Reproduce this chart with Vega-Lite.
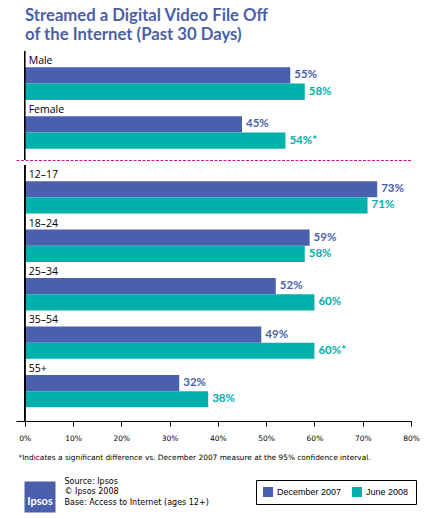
{
  "$schema": "https://vega.github.io/schema/vega-lite/v6.json",
  "background": "white",
  "padding": {"left": 16, "top": 8, "right": 10, "bottom": 4},
  "title": {
    "text": ["Streamed a Digital Video File Off", "of the Internet (Past 30 Days)"],
    "anchor": "start",
    "dx": 9,
    "font": "Lato",
    "fontSize": 16.7,
    "fontWeight": "bold",
    "lineHeight": 18.5,
    "color": "#4b5fa8",
    "offset": 7
  },
  "datasets": {
    "gender": [
      {"group": "Male", "series": "December 2007", "value": 55, "label": "55%"},
      {"group": "Male", "series": "June 2008", "value": 58, "label": "58%"},
      {"group": "Female", "series": "December 2007", "value": 45, "label": "45%"},
      {"group": "Female", "series": "June 2008", "value": 54, "label": "54%*"}
    ],
    "age": [
      {"group": "12–17", "series": "December 2007", "value": 73, "label": "73%"},
      {"group": "12–17", "series": "June 2008", "value": 71, "label": "71%"},
      {"group": "18–24", "series": "December 2007", "value": 59, "label": "59%"},
      {"group": "18–24", "series": "June 2008", "value": 58, "label": "58%"},
      {"group": "25–34", "series": "December 2007", "value": 52, "label": "52%"},
      {"group": "25–34", "series": "June 2008", "value": 60, "label": "60%"},
      {"group": "35–54", "series": "December 2007", "value": 49, "label": "49%"},
      {"group": "35–54", "series": "June 2008", "value": 60, "label": "60%*"},
      {"group": "55+", "series": "December 2007", "value": 32, "label": "32%"},
      {"group": "55+", "series": "June 2008", "value": 38, "label": "38%"}
    ],
    "source": [
      {"line": "Source: Ipsos"},
      {"line": "© Ipsos 2008"},
      {"line": "Base: Access to Internet (ages 12+)"}
    ],
    "logo": [{"name": "Ipsos"}]
  },
  "config": {
    "view": {"stroke": null},
    "legend": {
      "orient": "none",
      "legendX": 240,
      "legendY": 429,
      "direction": "horizontal",
      "strokeColor": "black",
      "strokeWidth": 1,
      "padding": 7,
      "symbolType": "square",
      "symbolSize": 100,
      "symbolStrokeWidth": 0,
      "symbolOpacity": 1,
      "labelFont": "Liberation Sans",
      "labelFontSize": 9,
      "labelColor": "black",
      "labelOffset": 4,
      "columnPadding": 10
    }
  },
  "resolve": {"scale": {"yOffset": "independent"}},
  "spacing": 3,
  "vconcat": [
    {
      "data": {"name": "gender"},
      "width": 395,
      "height": 109,
      "layer": [
        {
          "mark": {"type": "bar"},
          "encoding": {
            "x": {"field": "value", "type": "quantitative", "stack": null,
              "scale": {"domain": [-1.8, 80], "nice": false},
              "axis": {"orient": "bottom", "labels": false, "ticks": false, "grid": false, "title": null,
                "domainColor": "#d6177d", "domainDash": [3, 1.5], "domainWidth": 1}},
            "y": {"field": "group", "type": "nominal", "sort": null,
              "scale": {"paddingInner": 0, "paddingOuter": 0.115, "align": 0}, "axis": null},
            "yOffset": {"field": "series", "type": "nominal", "sort": null,
              "scale": {"paddingInner": 0, "paddingOuter": 0.5, "align": 1}},
            "color": {"field": "series", "type": "nominal", "sort": null, "title": null,
              "scale": {"domain": ["December 2007", "June 2008"], "range": ["#4a5fad", "#00b0aa"]}}
          }
        },
        {
          "mark": {"type": "text", "align": "left", "baseline": "middle", "dx": 4,
            "font": "Lato", "fontSize": 11.5, "fontWeight": "bold"},
          "encoding": {
            "x": {"field": "value", "type": "quantitative"},
            "y": {"field": "group", "type": "nominal", "sort": null},
            "yOffset": {"field": "series", "type": "nominal", "sort": null},
            "color": {"field": "series", "type": "nominal", "sort": null},
            "text": {"field": "label"}
          }
        },
        {
          "transform": [{"filter": "datum.series === 'December 2007'"}],
          "mark": {"type": "text", "align": "left", "baseline": "alphabetic", "dx": 4,
            "font": "Open Sans", "fontSize": 10.5, "color": "black"},
          "encoding": {
            "x": {"datum": 0},
            "y": {"field": "group", "type": "nominal", "sort": null, "bandPosition": 0.27},
            "text": {"field": "group"}
          }
        },
        {
          "mark": {"type": "rule", "color": "black", "strokeWidth": 1},
          "encoding": {"x": {"datum": 0}}
        }
      ]
    },
    {
      "data": {"name": "age"},
      "width": 395,
      "height": 256,
      "layer": [
        {
          "mark": {"type": "bar"},
          "encoding": {
            "x": {"field": "value", "type": "quantitative", "stack": null,
              "scale": {"domain": [-1.8, 80], "nice": false},
              "axis": {
                "values": [0, 10, 20, 30, 40, 50, 60, 70, 80],
                "labelExpr": "datum.value + '%'",
                "grid": false,
                "domainColor": "black",
                "tickColor": "black",
                "tickSize": 5,
                "labelFont": "DejaVu Sans",
                "labelFontSize": 7.5,
                "labelColor": "black",
                "labelPadding": 8,
                "labelFlush": false,
                "title": ["*Indicates a significant difference vs. December 2007 measure at the 95% confidence interval.", " "],
                "titleFont": "DejaVu Sans",
                "titleFontSize": 7.4,
                "titleFontWeight": "normal",
                "titleColor": "black",
                "titleAnchor": "start",
                "titleAlign": "left",
                "titleX": 2,
                "titlePadding": 12,
                "titleLineHeight": 11
              }},
            "y": {"field": "group", "type": "nominal", "sort": null,
              "scale": {"paddingInner": 0, "paddingOuter": 0.141, "align": 0}, "axis": null},
            "yOffset": {"field": "series", "type": "nominal", "sort": null,
              "scale": {"paddingInner": 0, "paddingOuter": 0.5, "align": 1}},
            "color": {"field": "series", "type": "nominal", "sort": null, "title": null,
              "scale": {"domain": ["December 2007", "June 2008"], "range": ["#4a5fad", "#00b0aa"]}}
          }
        },
        {
          "mark": {"type": "text", "align": "left", "baseline": "middle", "dx": 4,
            "font": "Lato", "fontSize": 11.5, "fontWeight": "bold"},
          "encoding": {
            "x": {"field": "value", "type": "quantitative"},
            "y": {"field": "group", "type": "nominal", "sort": null},
            "yOffset": {"field": "series", "type": "nominal", "sort": null},
            "color": {"field": "series", "type": "nominal", "sort": null},
            "text": {"field": "label"}
          }
        },
        {
          "transform": [{"filter": "datum.series === 'December 2007'"}],
          "mark": {"type": "text", "align": "left", "baseline": "alphabetic", "dx": 4,
            "font": "Open Sans", "fontSize": 10.5, "color": "black"},
          "encoding": {
            "x": {"datum": 0},
            "y": {"field": "group", "type": "nominal", "sort": null, "bandPosition": 0.27},
            "text": {"field": "group"}
          }
        },
        {
          "mark": {"type": "rule", "color": "black", "strokeWidth": 1},
          "encoding": {"x": {"datum": 0}}
        }
      ]
    },
    {
      "width": 48,
      "height": 32,
      "layer": [
        {
          "data": {"name": "logo"},
          "mark": {"type": "square", "size": 961, "color": "#4a5fad", "filled": true, "opacity": 1},
          "encoding": {}
        },
        {
          "data": {"name": "source"},
          "mark": {"type": "text", "text": "", "opacity": 0},
          "encoding": {
            "y": {"field": "line", "type": "nominal", "sort": null,
              "scale": {"paddingInner": 0, "paddingOuter": 0.15, "align": 0},
              "axis": {"orient": "right", "domain": false, "ticks": false, "labelPadding": 0,
                "labelFont": "DejaVu Sans", "labelFontSize": 8, "labelColor": "black",
                "labelLimit": 300, "title": null}}
          }
        },
        {
          "data": {"name": "logo"},
          "mark": {"type": "text", "color": "white", "font": "Lato", "fontWeight": "bold", "fontSize": 11},
          "encoding": {
            "y": {"datum": "Base: Access to Internet (ages 12+)"},
            "text": {"field": "name"}
          }
        }
      ]
    }
  ]
}
